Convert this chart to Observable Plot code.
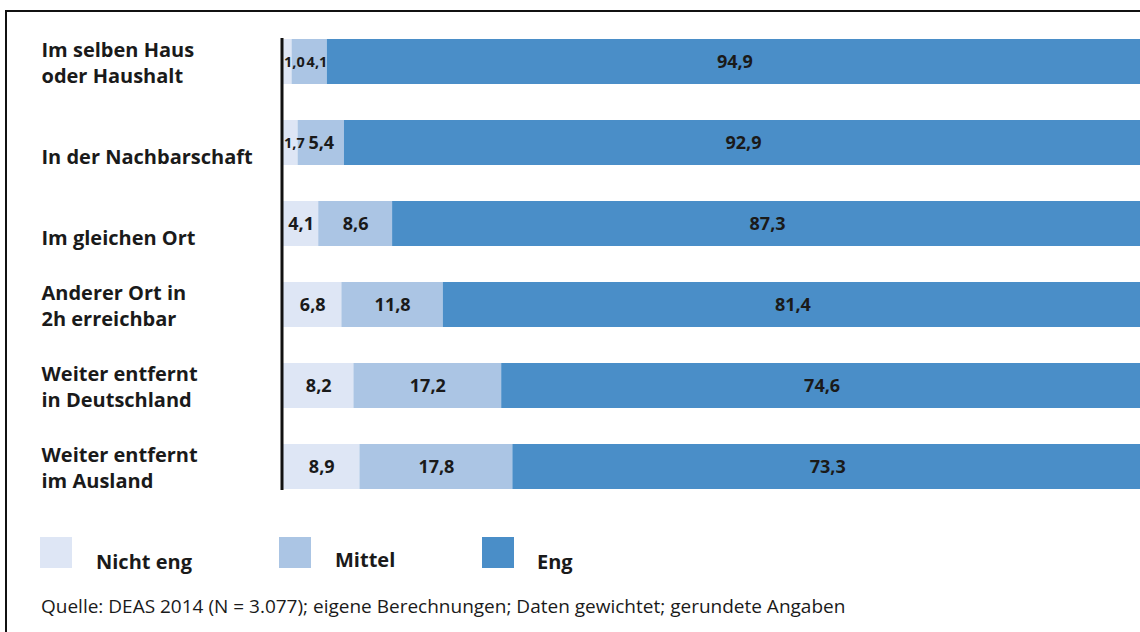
<!DOCTYPE html>
<html>
<head>
<meta charset="utf-8">
<script src="https://cdn.jsdelivr.net/npm/d3@7"></script>
<script src="https://cdn.jsdelivr.net/npm/@observablehq/plot@0.6"></script>
<style>
  html, body { margin: 0; padding: 0; width: 1140px; height: 632px; overflow: hidden; background: #fff; }
  body { position: relative; font-family: "Open Sans", "Noto Sans", sans-serif; color: #1a1a1a; }
  #frame { position: absolute; left: 5px; top: 10px; width: 2000px; height: 2000px;
           border-left: 2px solid #111; border-top: 2px solid #111; }
  #chart { position: absolute; left: 0; top: 0; width: 1160px; }
  #chart svg { max-width: none !important; }
  .swatch { position: absolute; width: 32px; height: 31px; }
  .legend-label { position: absolute; font-weight: 700; font-size: 20px; white-space: nowrap; }
  #caption { position: absolute; left: 41px; top: 593px; font-size: 19px; white-space: nowrap; color: #1a1a1a; }
</style>
</head>
<body>
<div id="frame"></div>
<div id="chart"></div>
<div id="legend"></div>
<div id="caption">Quelle: DEAS 2014 (N = 3.077); eigene Berechnungen; Daten gewichtet; gerundete Angaben</div>
<script>
// ---- data ----
const categories = [
  "Im selben Haus\noder Haushalt",
  "\nIn der Nachbarschaft",
  "\nIm gleichen Ort",
  "Anderer Ort in\n2h erreichbar",
  "Weiter entfernt\nin Deutschland",
  "Weiter entfernt\nim Ausland"
];
const levels = ["Nicht eng", "Mittel", "Eng"];
const nichtEng = [1.0, 1.7, 4.1, 6.8, 8.2, 8.9];
const mittel   = [4.1, 5.4, 8.6, 11.8, 17.2, 17.8];
const eng      = [94.9, 92.9, 87.3, 81.4, 74.6, 73.3];
const colors   = ["#dee6f5", "#abc5e4", "#4a8ec8"];

// ---- long table with stack offsets ----
const series = [nichtEng, mittel, eng];
const rows = [];
categories.forEach((cat, i) => {
  let acc = 0;
  levels.forEach((lv, j) => {
    const v = series[j][i];
    const prev = j > 0 ? series[j - 1][i] : Infinity;
    rows.push({cat, level: lv, value: v, x0: acc, x1: acc + v, mid: acc + v / 2,
               anchor: v < 2 ? "start" : (v < 5 && prev < 2 ? "end" : "middle")});
    acc += v;
  });
});
const fmt = v => v.toFixed(1).replace(".", ",");

const chart = Plot.plot({
  width: 1160,
  height: 500,
  marginLeft: 283,
  marginRight: 18,
  marginTop: 38,
  marginBottom: 10,
  x: {domain: [0, 100], axis: null},
  y: {domain: categories, axis: null, paddingInner: 0.447, paddingOuter: 0},
  color: {domain: levels, range: colors},
  style: {fontFamily: "'Open Sans', 'Noto Sans', sans-serif", background: "transparent", maxWidth: "none"},
  marks: [
    Plot.barX(rows, {y: "cat", x1: "x0", x2: "x1", fill: "level"}),
    Plot.ruleX([0], {stroke: "#111", strokeWidth: 3, dx: -1.5}),
    Plot.text(rows.filter(d => d.anchor === "middle"), {
      y: "cat", x: "mid", text: d => fmt(d.value),
      fontSize: 18, fontWeight: 700, fill: "#1a1a1a"
    }),
    Plot.text(rows.filter(d => d.anchor === "start"), {
      y: "cat", x: "x0", text: d => fmt(d.value), textAnchor: "start", dx: 0.5,
      fontSize: 14.5, fontWeight: 700, fill: "#1a1a1a"
    }),
    Plot.text(rows.filter(d => d.anchor === "end"), {
      y: "cat", x: "x1", text: d => fmt(d.value), textAnchor: "end", dx: 0,
      fontSize: 14.5, fontWeight: 700, fill: "#1a1a1a"
    }),
    Plot.text(categories, {
      y: d => d, text: d => d, frameAnchor: "left", textAnchor: "start",
      dx: -242, dy: 0, lineAnchor: "middle", lineHeight: 1.3,
      fontSize: 20, fontWeight: 700, fill: "#1a1a1a"
    })
  ]
});
chart.style.maxWidth = "none";
document.getElementById("chart").appendChild(chart);

// ---- legend (HTML below the plot) ----
const legendPos = [
  {sx: 40, tx: 96, ty: 548},
  {sx: 279, tx: 335, ty: 546},
  {sx: 482, tx: 537, ty: 548}
];
const legend = document.getElementById("legend");
levels.forEach((lv, j) => {
  const sw = document.createElement("div");
  sw.className = "swatch";
  sw.style.left = legendPos[j].sx + "px";
  sw.style.top = "537px";
  sw.style.background = colors[j];
  legend.appendChild(sw);
  const lb = document.createElement("div");
  lb.className = "legend-label";
  lb.style.left = legendPos[j].tx + "px";
  lb.style.top = legendPos[j].ty + "px";
  lb.textContent = lv;
  legend.appendChild(lb);
});
</script>
</body>
</html>
